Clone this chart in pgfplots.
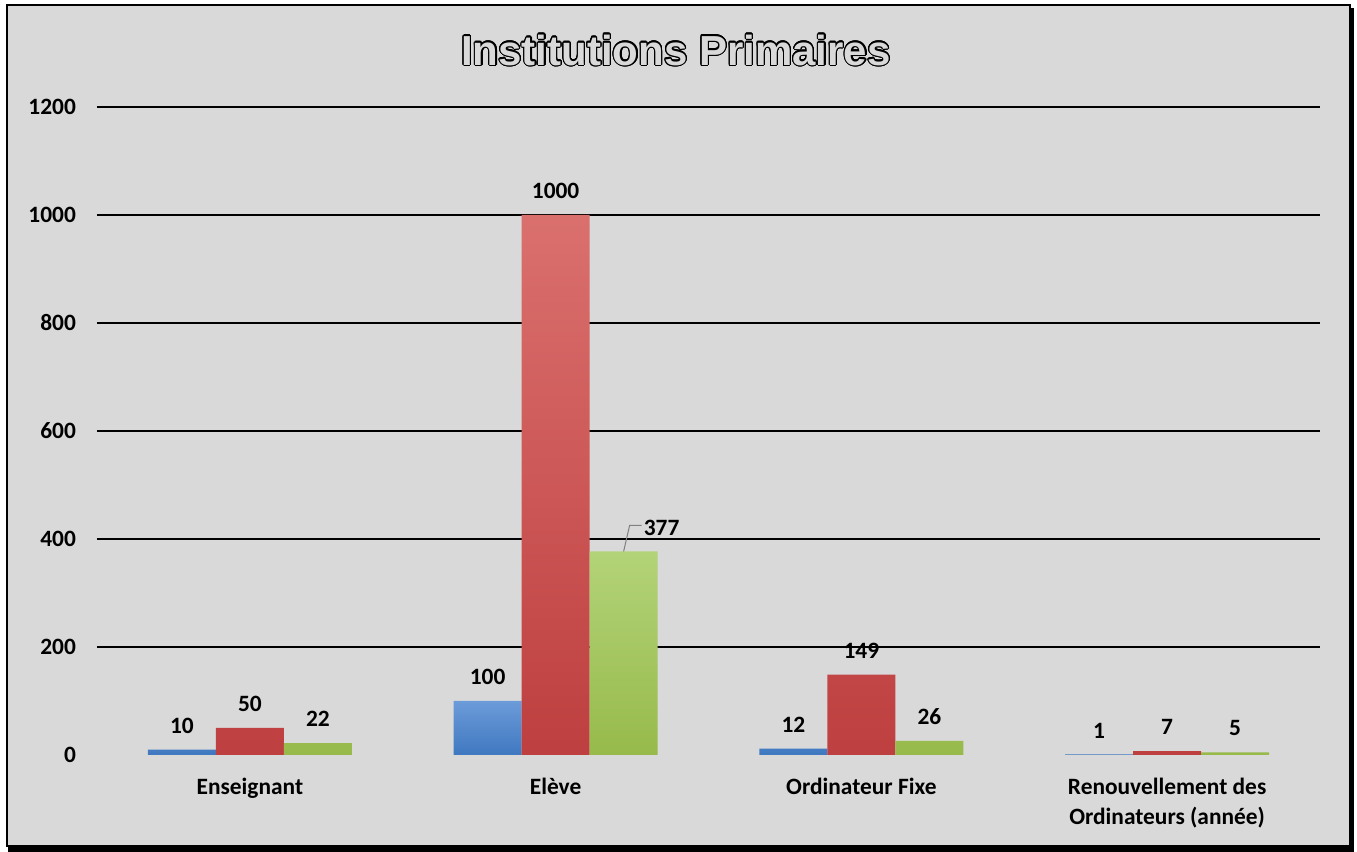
\documentclass[border=0pt]{standalone}
\usepackage{pgfplots}
\pgfplotsset{compat=1.18}
\usepackage{fontspec}
\setmainfont{Carlito}
\newfontfamily\titlefont{Liberation Sans}
\definecolor{bg}{HTML}{D9D9D9}
\definecolor{bluetop}{HTML}{6C9BD9}
\definecolor{bluebot}{HTML}{3F78C0}
\definecolor{redtop}{HTML}{DA706E}
\definecolor{redbot}{HTML}{BE3F3F}
\definecolor{greentop}{HTML}{B3D378}
\definecolor{greenbot}{HTML}{97BA4B}
\begin{document}
\begin{tikzpicture}
\useasboundingbox (0,0) rectangle (678.5pt,426pt);
\fill[black] (4pt,0pt) rectangle (677pt,3.5pt);
\fill[black] (674pt,0pt) rectangle (677pt,422pt);
\filldraw[fill=bg, draw=black, line width=1pt] (3.5pt,3pt) rectangle (675pt,423.5pt);
\foreach \a in {0,15,...,345}
  \node[font=\titlefont\bfseries\fontsize{21}{21}\selectfont, text=black] at ([shift={(\a:0.55pt)}]338pt,401pt) {Institutions Primaires};
\node[font=\titlefont\bfseries\fontsize{21}{21}\selectfont, text=bg] at (338pt,401pt) {Institutions Primaires};
\begin{axis}[
  at={(48.5pt,48.5pt)}, anchor=south west, scale only axis,
  width=611.5pt, height=324pt,
  xmin=-0.5, xmax=3.5, ymin=0, ymax=1200,
  ybar=0pt, bar width=34pt,
  xtick={0,1,2,3},
  xticklabels={Enseignant, Elève, Ordinateur Fixe, {Renouvellement des\\Ordinateurs (année)}},
  ytick={200,400,...,1200},
  extra y ticks={0}, extra y tick style={grid=none},
  ymajorgrids, grid style={black, line width=0.75pt},
  axis line style={draw=none}, major tick length=0pt,
  tick label style={font=\fontsize{11.7}{15}\selectfont\bfseries},
  xticklabel style={align=center, yshift=-8pt},
  yticklabel style={xshift=-7pt},
  /pgf/number format/assume math mode=true,
  /pgf/number format/1000 sep={},
  nodes near coords,
  every node near coord/.append style={font=\fontsize{11.7}{14}\selectfont\bfseries, anchor=center, yshift=12pt, text=black},
]
\addplot[draw=none, top color=bluetop, bottom color=bluebot] coordinates {(0,10) (1,100) (2,12) (3,1)};
\addplot[draw=none, top color=redtop, bottom color=redbot] coordinates {(0,50) (1,1000) (2,149) (3,7)};
\addplot[draw=none, top color=greentop, bottom color=greenbot,
  coordinate style/.condition={\coordindex==1}{xshift=19pt}] coordinates {(0,22) (1,377) (2,26) (3,5)};
\draw[gray, line width=0.5pt] ([xshift=34pt]axis cs:1,377) -- ([xshift=37pt,yshift=13pt]axis cs:1,377) -- ([xshift=43pt,yshift=13pt]axis cs:1,377);
\end{axis}
\end{tikzpicture}
\end{document}
